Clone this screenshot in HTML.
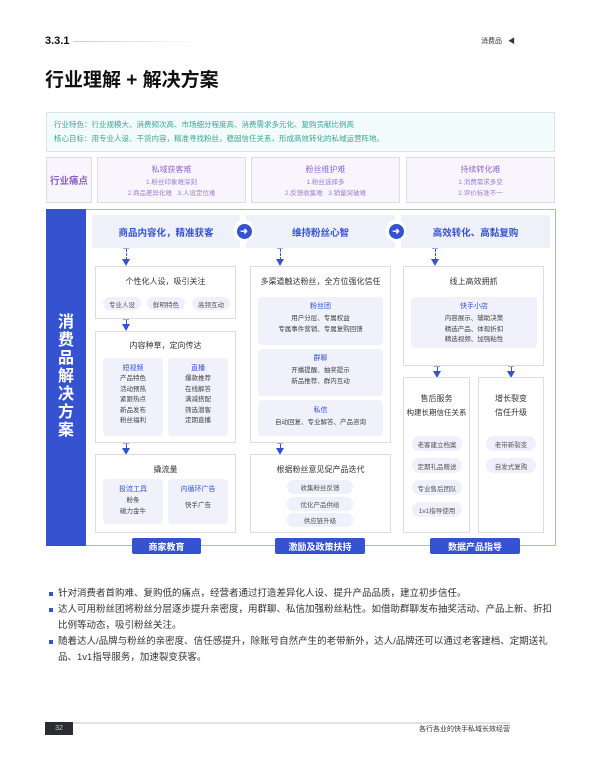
<!DOCTYPE html>
<html><head><meta charset="utf-8"><style>
*{margin:0;padding:0;box-sizing:border-box}
body{width:600px;height:766px;background:#fff;position:relative;overflow:hidden;font-family:"Liberation Sans","Noto Sans CJK SC",sans-serif;color:#333}
.a{position:absolute}
.c{display:flex;align-items:center;justify-content:center;text-align:center}
.box{position:absolute;border:1px solid #dcdde3;background:#fff}
.pn{position:absolute;background:#f0f1fb;border-radius:4px}
.pill{position:absolute;background:#eff0fb;border-radius:8px;font-size:6.5px;color:#555;display:flex;align-items:center;justify-content:center}
.t{position:absolute;left:0;right:0;text-align:center}
.bl{color:#3553d1}
.arr{position:absolute;width:8px}
.arr .ln{position:absolute;left:3.5px;top:1px;width:0;border-left:1px dashed #3553d1}
.arr .cap{position:absolute;left:1px;top:0;width:6px;height:1px;background:#9aa8e0}
.arr .hd{position:absolute;left:0;width:0;height:0;border-left:4px solid transparent;border-right:4px solid transparent;border-top:7px solid #3553d1}
.btn{position:absolute;background:#3553d1;color:#fff;font-size:9px;font-weight:bold;border-radius:2px;display:flex;align-items:center;justify-content:center;top:538px;height:16px}
.sm{font-size:6.5px;color:#444;line-height:10.5px}
</style></head><body>
<div class="a" style="left:45px;top:35px;font-size:11px;font-weight:bold;color:#111">3.3.1</div>
<div class="a" style="left:73px;top:41px;width:135px;height:1px;background:linear-gradient(90deg,#ccc,#fff)"></div>
<div class="a" style="left:481px;top:36px;font-size:7px;color:#333">消费品 <span style="font-size:7px;margin-left:4px">◀</span></div>
<div class="a" style="left:45px;top:65px;font-size:19px;font-weight:bold;color:#111">行业理解 + 解决方案</div>
<div class="a" style="left:46px;top:112px;width:509px;height:40px;background:#f2fcfa;border:1px solid #d6e6e6"></div>
<div class="a" style="left:54px;top:118px;font-size:7.5px;color:#3aa596;line-height:14px">行业特色：行业规模大、消费频次高、市场细分程度高、消费需求多元化、复购贡献比例高<br>核心目标：用专业人设、干货内容，精准寻找粉丝，稳固信任关系，形成高效转化的私域运营阵地。</div>
<div class="a c" style="left:46px;top:157px;width:46px;height:46px;background:#f8f5fd;border:1px solid #ddd;font-size:9.5px;font-weight:bold;color:#8a5ec6">行业痛点</div>
<div class="a" style="left:97px;top:157px;width:149px;height:46px;background:#f8f5fd;border:1px solid #ddd;text-align:center;color:#8f6acb"><div style="font-size:8px;margin-top:6px">私域获客难</div><div style="font-size:6.5px;line-height:11px;margin-top:2px;color:#9d80d4">1.粉丝印象难深刻<br>2.商品差异化难&nbsp;&nbsp;&nbsp;3.人设定位难</div></div>
<div class="a" style="left:251px;top:157px;width:149px;height:46px;background:#f8f5fd;border:1px solid #ddd;text-align:center;color:#8f6acb"><div style="font-size:8px;margin-top:6px">粉丝维护难</div><div style="font-size:6.5px;line-height:11px;margin-top:2px;color:#9d80d4">1.粉丝选择多<br>2.反馈收集难&nbsp;&nbsp;&nbsp;3.销量突破难</div></div>
<div class="a" style="left:406px;top:157px;width:149px;height:46px;background:#f8f5fd;border:1px solid #ddd;text-align:center;color:#8f6acb"><div style="font-size:8px;margin-top:6px">持续转化难</div><div style="font-size:6.5px;line-height:11px;margin-top:2px;color:#9d80d4">1.消费需求多变<br>2.评价标准不一</div></div>
<div class="a" style="left:46px;top:209px;width:510px;height:337px;border:1px solid #aab6e2;border-left:none"></div>
<div class="a" style="left:46px;top:209px;width:40px;height:337px;background:#3553d1"></div>
<div class="a" style="left:46px;top:314px;width:40px;text-align:center;color:#fff;font-size:16px;font-weight:bold;line-height:18px">消<br>费<br>品<br>解<br>决<br>方<br>案</div>
<div class="a c bl" style="left:92px;top:215px;width:148px;height:33px;background:#eef0fa;font-size:9.5px;font-weight:bold">商品内容化，精准获客</div>
<div class="a c bl" style="left:246px;top:215px;width:149px;height:33px;background:#eef0fa;font-size:9.5px;font-weight:bold">维持粉丝心智</div>
<div class="a c bl" style="left:401px;top:215px;width:149px;height:33px;background:#eef0fa;font-size:9.5px;font-weight:bold">高效转化、高黏复购</div>
<div class="a c" style="left:233px;top:220px;width:22px;height:22px;border-radius:50%;background:#fff"><div class="c" style="width:15px;height:15px;border-radius:50%;background:#3553d1;color:#fff;font-size:9px;font-weight:bold">➜</div></div>
<div class="a c" style="left:385px;top:220px;width:22px;height:22px;border-radius:50%;background:#fff"><div class="c" style="width:15px;height:15px;border-radius:50%;background:#3553d1;color:#fff;font-size:9px;font-weight:bold">➜</div></div>
<div class="arr" style="left:122px;top:248px;height:18px"><div class="cap"></div><div class="ln" style="height:11px"></div><div class="hd" style="top:11px"></div></div>
<div class="arr" style="left:276px;top:248px;height:18px"><div class="cap"></div><div class="ln" style="height:11px"></div><div class="hd" style="top:11px"></div></div>
<div class="arr" style="left:431px;top:248px;height:18px"><div class="cap"></div><div class="ln" style="height:11px"></div><div class="hd" style="top:11px"></div></div>
<div class="arr" style="left:122px;top:319px;height:12px"><div class="cap"></div><div class="ln" style="height:6px"></div><div class="hd" style="top:5px"></div></div>
<div class="arr" style="left:122px;top:443px;height:12px"><div class="cap"></div><div class="ln" style="height:6px"></div><div class="hd" style="top:5px"></div></div>
<div class="arr" style="left:276px;top:443px;height:12px"><div class="cap"></div><div class="ln" style="height:6px"></div><div class="hd" style="top:5px"></div></div>
<div class="arr" style="left:433px;top:366px;height:12px"><div class="cap"></div><div class="ln" style="height:6px"></div><div class="hd" style="top:5px"></div></div>
<div class="arr" style="left:507px;top:366px;height:12px"><div class="cap"></div><div class="ln" style="height:6px"></div><div class="hd" style="top:5px"></div></div>
<div class="box" style="left:95px;top:266px;width:141px;height:53px"><div class="t" style="top:9px;font-size:8px">个性化人设，吸引关注</div></div>
<div class="pill" style="left:103px;top:297px;width:38px;height:13px">专业人设</div>
<div class="pill" style="left:147px;top:297px;width:38px;height:13px">鲜明特色</div>
<div class="pill" style="left:192px;top:297px;width:38px;height:13px">高频互动</div>
<div class="box" style="left:95px;top:331px;width:141px;height:112px"><div class="t" style="top:8px;font-size:8px">内容种草，定向传达</div></div>
<div class="pn" style="left:103px;top:358px;width:60px;height:78px;text-align:center"><div class="bl" style="font-size:7px;margin-top:5px">短视频</div><div class="sm" style="margin-top:1px">产品特色<br>活动预热<br>紧跟热点<br>新品发布<br>粉丝福利</div></div>
<div class="pn" style="left:168px;top:358px;width:60px;height:78px;text-align:center"><div class="bl" style="font-size:7px;margin-top:5px">直播</div><div class="sm" style="margin-top:1px">爆款推荐<br>在线解答<br>满减搭配<br>筛选潜客<br>定期直播</div></div>
<div class="box" style="left:95px;top:454px;width:141px;height:79px"><div class="t" style="top:9px;font-size:8px">撬流量</div></div>
<div class="pn" style="left:103px;top:479px;width:60px;height:45px;text-align:center"><div class="bl" style="font-size:7px;margin-top:5px">投流工具</div><div class="sm" style="margin-top:2px">粉条<br>磁力金牛</div></div>
<div class="pn" style="left:168px;top:479px;width:60px;height:45px;text-align:center"><div class="bl" style="font-size:7px;margin-top:5px">内循环广告</div><div class="sm" style="margin-top:7px">快手广告</div></div>
<div class="box" style="left:250px;top:266px;width:141px;height:177px"><div class="t" style="top:9px;font-size:8px">多渠道触达粉丝，全方位强化信任</div></div>
<div class="pn" style="left:258px;top:297px;width:125px;height:48px;text-align:center"><div class="bl" style="font-size:7px;margin-top:4px">粉丝团</div><div class="sm" style="margin-top:3px">用户分层、专属权益<br>专属事件营销、专属复购回馈</div></div>
<div class="pn" style="left:258px;top:349px;width:125px;height:47px;text-align:center"><div class="bl" style="font-size:7px;margin-top:4px">群聊</div><div class="sm" style="margin-top:3px">开播提醒、抽奖提示<br>新品推荐、群内互动</div></div>
<div class="pn" style="left:258px;top:400px;width:125px;height:36px;text-align:center"><div class="bl" style="font-size:7px;margin-top:5px">私信</div><div class="sm" style="margin-top:3px">自动回复、专业解答、产品咨询</div></div>
<div class="box" style="left:250px;top:454px;width:141px;height:79px"><div class="t" style="top:9px;font-size:8px">根据粉丝意见促产品迭代</div></div>
<div class="pill" style="left:287px;top:480px;width:66px;height:14px">收集粉丝反馈</div>
<div class="pill" style="left:287px;top:497px;width:66px;height:14px">优化产品供给</div>
<div class="pill" style="left:287px;top:513px;width:66px;height:14px">供应链升级</div>
<div class="box" style="left:403px;top:266px;width:141px;height:100px"><div class="t" style="top:9px;font-size:8px">线上高效拥抓</div></div>
<div class="pn" style="left:411px;top:297px;width:126px;height:51px;text-align:center"><div class="bl" style="font-size:7px;margin-top:4px">快手小店</div><div class="sm" style="margin-top:3px">内容展示、辅助决策<br>精选产品、体现折扣<br>精选视频、加强粘性</div></div>
<div class="box" style="left:403px;top:377px;width:67px;height:156px"><div class="t" style="top:14px;font-size:8px;line-height:14px">售后服务<br><span style="font-size:7.5px">构建长期信任关系</span></div></div>
<div class="box" style="left:478px;top:377px;width:66px;height:156px"><div class="t" style="top:14px;font-size:8px;line-height:14px">增长裂变<br>信任升级</div></div>
<div class="pill" style="left:412px;top:436px;width:50px;height:15px">老客建立档案</div>
<div class="pill" style="left:412px;top:458px;width:50px;height:15px">定期礼品赠送</div>
<div class="pill" style="left:412px;top:480px;width:50px;height:15px">专业售后团队</div>
<div class="pill" style="left:412px;top:502px;width:50px;height:15px">1v1指导使用</div>
<div class="pill" style="left:486px;top:436px;width:50px;height:15px">老带新裂变</div>
<div class="pill" style="left:486px;top:458px;width:50px;height:15px">自发式复购</div>
<div class="btn" style="left:132px;width:69px">商家教育</div>
<div class="btn" style="left:275px;width:90px">激励及政策扶持</div>
<div class="btn" style="left:430px;width:90px">数据产品指导</div>
<div class="a" style="left:47px;top:586px;width:510px;font-size:9.5px;line-height:16px;color:#333">
<div style="position:relative;padding-left:11px"><span class="a" style="left:2px;top:6px;width:4px;height:4px;background:#3553d1"></span>针对消费者首购难、复购低的痛点，经营者通过打造差异化人设、提升产品品质，建立初步信任。</div>
<div style="position:relative;padding-left:11px"><span class="a" style="left:2px;top:6px;width:4px;height:4px;background:#3553d1"></span>达人可用粉丝团将粉丝分层逐步提升亲密度，用群聊、私信加强粉丝粘性。如借助群聊发布抽奖活动、产品上新、折扣比例等动态，吸引粉丝关注。</div>
<div style="position:relative;padding-left:11px"><span class="a" style="left:2px;top:6px;width:4px;height:4px;background:#3553d1"></span>随着达人/品牌与粉丝的亲密度、信任感提升，除账号自然产生的老带新外，达人/品牌还可以通过老客建档、定期送礼品、1v1指导服务，加速裂变获客。</div>
</div>
<div class="a" style="left:73px;top:722px;width:437px;height:2px;background:#e2e2e2"></div>
<div class="a c" style="left:45px;top:722px;width:28px;height:13px;background:#2b2d33;color:#ccc;font-size:7px">32</div>
<div class="a" style="left:380px;top:724px;width:130px;text-align:right;font-size:7px;color:#333;white-space:nowrap">各行各业的快手私域长效经营</div>
</body></html>
